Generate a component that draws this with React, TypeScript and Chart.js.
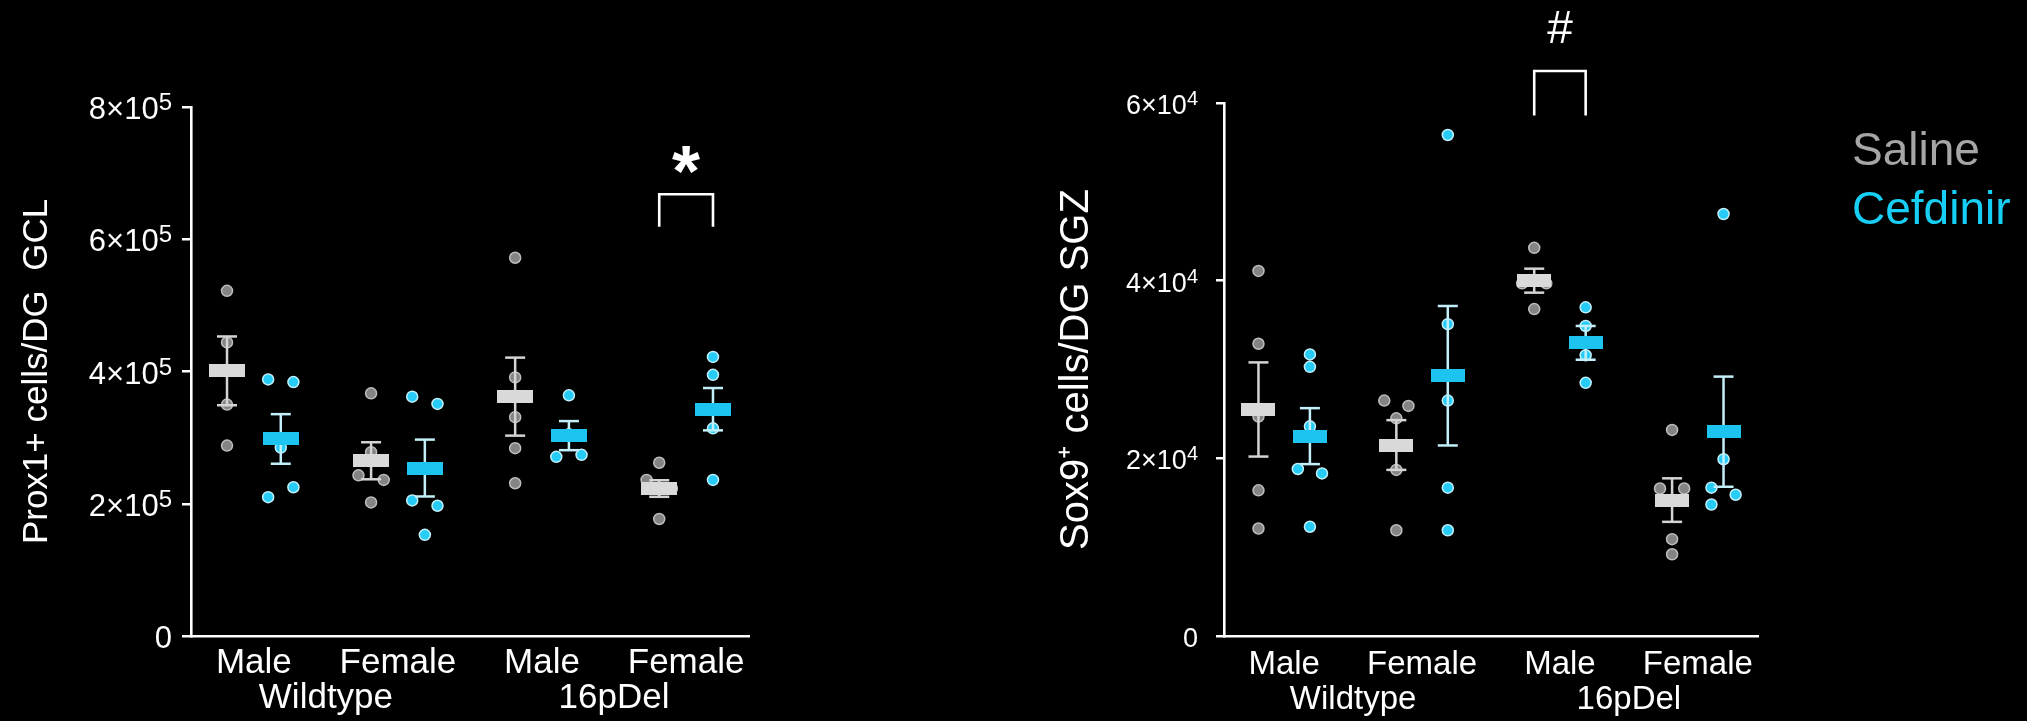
import React, { useEffect, useRef } from 'react';
import { Chart, registerables } from 'chart.js';

Chart.register(...registerables);

const FONT = "'Liberation Sans', Arial, Helvetica, sans-serif";

// ---------- shared categories ----------
const subgroupLabels = ['Male', 'Female', 'Male', 'Female'];
const genotypeLabels = ['Wildtype', '16pDel'];
const seriesNames = ['Saline', 'Cefdinir'];

// ---------- Panel A: Prox1+ cells/DG GCL ----------
const prox1YTicks = [0, 200000, 400000, 600000, 800000];
const prox1YTickLabels = ['0', '2×10⁵', '4×10⁵', '6×10⁵', '8×10⁵'];
const prox1SalinePoints = [
  [522000, 444000, 350000, 288000],
  [367000, 278000, 243000, 236000, 202000],
  [572000, 391000, 331000, 284000, 231000],
  [262000, 236000, 223000, 222000, 177000],
];
const prox1CefPoints = [
  [388000, 384000, 285000, 225000, 210000],
  [362000, 351000, 205000, 197000, 153000],
  [364000, 305000, 271000, 274000],
  [422000, 395000, 314000, 236000],
];
const prox1SalineMean = [401000, 265000, 362000, 223000];
const prox1SalineSem = [52000, 28000, 59000, 12500];
const prox1CefMean = [298000, 254000, 303000, 343000];
const prox1CefSem = [37500, 43000, 22000, 32000];
// significance: group index, bracket top, bracket leg end, symbol level
const prox1Sig = { group: 3, top: 668000, leg: 619000, symbol: 719000, text: '*' };

// ---------- Panel B: Sox9+ cells/DG SGZ ----------
const sox9YTicks = [0, 20000, 40000, 60000];
const sox9YTickLabels = ['0', '2×10⁴', '4×10⁴', '6×10⁴'];
const sox9SalinePoints = [
  [41100, 32900, 24700, 16400, 12100],
  [26500, 25900, 24500, 18700, 11900],
  [43700, 39700, 39700, 36800],
  [23200, 16600, 16600, 10900, 9200],
];
const sox9CefPoints = [
  [31700, 30300, 23600, 18800, 18300, 12300],
  [56400, 35100, 26500, 16700, 11900],
  [37000, 34900, 31600, 28500],
  [47500, 19900, 16700, 15900, 14800],
];
const sox9SalineMean = [25500, 21500, 40000, 15300];
const sox9SalineSem = [5300, 2800, 1350, 2450];
const sox9CefMean = [22500, 29300, 33000, 23000];
const sox9CefSem = [3150, 7850, 1900, 6200];
const sox9Sig = { group: 2, top: 63600, leg: 58600, symbol: 68600, text: '#' };

// ---------- layout (positions only, no data) ----------
const GROUP_SPACING = 2.68;
const PAIR_OFFSET = 1;
const JITTER_STEP = 0.235;
const X_MIN = -0.67;
const X_MAX = 9.71;
const prox1SalineJitter = [[0, 0, 0, 0], [0, 0, -1, 1, 0], [0, 0, 0, 0, 0], [0, -1, 1, 0, 0]];
const prox1CefJitter = [[-1, 1, 0, 1, -1], [-1, 1, -1, 1, 0], [0, 0, -1, 1], [0, 0, 0, 0]];
const sox9SalineJitter = [[0, 0, 0, 0, 0], [-1, 1, 0, 0, 0], [0, -1, 1, 0], [0, -1, 1, 0, 0]];
const sox9CefJitter = [[0, 0, 0, -1, 1, 0], [0, 0, 0, 0, 0], [0, 0, 0, 0], [0, 0, -1, 1, -1]];

// ---------- styles ----------
const SALINE_DOT = '#848484';
const SALINE_DOT_BORDER = '#bdbdbd';
const SALINE_BAR = '#d9d9d9';
const SALINE_ERR = '#d4d4d4';
const CEF_DOT = '#26cbf6';
const CEF_DOT_BORDER = '#c2f1fc';
const CEF_BAR = '#1ec4f0';
const CEF_ERR = '#c2eff9';
const LEGEND_SALINE = '#a6a6a6';
const LEGEND_CEF = '#17cff5';

const SUP_MAP: Record<string, string> = {
  '⁰': '0', '¹': '1', '²': '2', '³': '3', '⁴': '4', '⁵': '5', '⁶': '6', '⁷': '7', '⁸': '8', '⁹': '9',
};

const groupX = (g: number) => g * GROUP_SPACING;

function rectStyle(w: number, h: number, color: string) {
  const c = document.createElement('canvas');
  c.width = w;
  c.height = h;
  const ctx = c.getContext('2d')!;
  ctx.fillStyle = color;
  ctx.fillRect(0, 0, w, h);
  return c;
}

type Panel = {
  title: string;
  yMax: number;
  yTicks: number[];
  yTickLabels: string[];
  salinePoints: number[][];
  cefPoints: number[][];
  salineJitter: number[][];
  cefJitter: number[][];
  salineMean: number[];
  salineSem: number[];
  cefMean: number[];
  cefSem: number[];
  sig: { group: number; top: number; leg: number; symbol: number; text: string };
  // layout
  padTop: number;
  padRight: number;
  yWidth: number;
  titleSize: number;
  titlePad: number;
  tickSize: number;
  expSize: number;
  tickBase: number;
  expBase: number;
  tickPad: number;
  tickLen: number;
  labelSize: number;
  labelPad: number;
  barW: number;
  barH: number;
  symbolFont: string;
  symbolBaselineShift: number;
  legend: boolean;
};

function pointsData(points: number[][], jitter: number[][], offset: number) {
  const out: { x: number; y: number }[] = [];
  points.forEach((grp, g) => {
    grp.forEach((v, i) => {
      out.push({ x: groupX(g) + offset + jitter[g][i] * JITTER_STEP, y: v });
    });
  });
  return out;
}

function whiskerData(mean: number[], sem: number[], offset: number) {
  const out: { x: number; y: number | null }[] = [];
  mean.forEach((m, g) => {
    const x = groupX(g) + offset;
    out.push({ x, y: m - sem[g] }, { x, y: m + sem[g] }, { x, y: null });
  });
  return out;
}

function capData(mean: number[], sem: number[], offset: number) {
  const out: { x: number; y: number }[] = [];
  mean.forEach((m, g) => {
    const x = groupX(g) + offset;
    out.push({ x, y: m - sem[g] }, { x, y: m + sem[g] });
  });
  return out;
}

function meanData(mean: number[], offset: number) {
  return mean.map((m, g) => ({ x: groupX(g) + offset, y: m }));
}

const CHART_BOTTOM = 636;

function splitSup(label: string): [string, string] {
  let base = '';
  let exp = '';
  for (const ch of label) {
    if (SUP_MAP[ch] !== undefined) exp += SUP_MAP[ch];
    else base += ch;
  }
  return [base, exp];
}

function makePanel(canvas: HTMLCanvasElement, p: Panel) {
  const genotypeCenters = genotypeLabels.map(
    (_, k) => (groupX(2 * k) + groupX(2 * k + 1)) / 2 + PAIR_OFFSET / 2
  );
  const xTickItems = [
    ...subgroupLabels.map((l, g) => ({ value: groupX(g) + PAIR_OFFSET / 2, label: [l, ''] })),
    ...genotypeLabels.map((l, k) => ({ value: genotypeCenters[k], label: ['', l] })),
  ].sort((a, b) => a.value - b.value);

  const sigPlugin = {
    id: 'sig',
    afterDraw(chart: any) {
      const { ctx, scales, chartArea } = chart;
      const xs = scales.x;
      const ys = scales.y;
      ctx.save();

      // y tick labels with superscript exponents
      const labelRight = ys.right - p.tickLen - p.tickPad;
      ctx.fillStyle = '#ffffff';
      ctx.textAlign = 'right';
      ctx.textBaseline = 'alphabetic';
      p.yTicks.forEach((v, i) => {
        const py = ys.getPixelForValue(v);
        const [base, exp] = splitSup(p.yTickLabels[i]);
        let right = labelRight;
        if (exp) {
          ctx.font = `${p.expSize}px ${FONT}`;
          ctx.fillText(exp, right, py + p.expBase);
          right -= ctx.measureText(exp).width;
        }
        ctx.font = `${p.tickSize}px ${FONT}`;
        ctx.fillText(base, right, py + p.tickBase);
      });

      // significance bracket
      const x1 = xs.getPixelForValue(groupX(p.sig.group));
      const x2 = xs.getPixelForValue(groupX(p.sig.group) + PAIR_OFFSET);
      const yt = ys.getPixelForValue(p.sig.top);
      const yl = ys.getPixelForValue(p.sig.leg);
      ctx.strokeStyle = '#ffffff';
      ctx.lineWidth = 2.6;
      ctx.lineJoin = 'miter';
      ctx.beginPath();
      ctx.moveTo(x1, yl);
      ctx.lineTo(x1, yt);
      ctx.lineTo(x2, yt);
      ctx.lineTo(x2, yl);
      ctx.stroke();
      ctx.font = p.symbolFont;
      ctx.textAlign = 'center';
      ctx.fillText(p.sig.text, (x1 + x2) / 2, ys.getPixelForValue(p.sig.symbol) + p.symbolBaselineShift);

      if (p.legend) {
        ctx.font = `46px ${FONT}`;
        ctx.textAlign = 'left';
        ctx.textBaseline = 'middle';
        ctx.fillStyle = LEGEND_SALINE;
        ctx.fillText(seriesNames[0], chartArea.right + 94, chartArea.top + 49);
        ctx.fillStyle = LEGEND_CEF;
        ctx.fillText(seriesNames[1], chartArea.right + 94, chartArea.top + 108);
      }
      ctx.restore();
    },
  };

  return new Chart(canvas, {
    type: 'scatter',
    data: {
      datasets: [
        {
          label: seriesNames[0] + ' points',
          data: pointsData(p.salinePoints, p.salineJitter, 0),
          pointRadius: 5.5,
          pointBackgroundColor: SALINE_DOT,
          pointBorderColor: SALINE_DOT_BORDER,
          pointBorderWidth: 1.5,
          order: 5,
        },
        {
          label: seriesNames[1] + ' points',
          data: pointsData(p.cefPoints, p.cefJitter, PAIR_OFFSET),
          pointRadius: 5.5,
          pointBackgroundColor: CEF_DOT,
          pointBorderColor: CEF_DOT_BORDER,
          pointBorderWidth: 1.5,
          order: 5,
        },
        {
          label: 'saline sem',
          data: whiskerData(p.salineMean, p.salineSem, 0),
          showLine: true,
          spanGaps: false,
          borderColor: SALINE_ERR,
          borderWidth: 2.5,
          pointRadius: 0,
          order: 4,
        },
        {
          label: 'cef sem',
          data: whiskerData(p.cefMean, p.cefSem, PAIR_OFFSET),
          showLine: true,
          spanGaps: false,
          borderColor: CEF_ERR,
          borderWidth: 2.5,
          pointRadius: 0,
          order: 4,
        },
        {
          label: 'saline caps',
          data: capData(p.salineMean, p.salineSem, 0),
          pointStyle: 'line',
          pointRadius: 10,
          pointBorderColor: SALINE_ERR,
          pointBorderWidth: 2.5,
          order: 3,
        },
        {
          label: 'cef caps',
          data: capData(p.cefMean, p.cefSem, PAIR_OFFSET),
          pointStyle: 'line',
          pointRadius: 10,
          pointBorderColor: CEF_ERR,
          pointBorderWidth: 2.5,
          order: 3,
        },
        {
          label: seriesNames[0] + ' mean',
          data: meanData(p.salineMean, 0),
          pointStyle: rectStyle(p.barW, p.barH, SALINE_BAR) as any,
          pointRadius: 6,
          order: 1,
        },
        {
          label: seriesNames[1] + ' mean',
          data: meanData(p.cefMean, PAIR_OFFSET),
          pointStyle: rectStyle(p.barW, p.barH, CEF_BAR) as any,
          pointRadius: 6,
          order: 1,
        },
      ] as any,
    },
    options: {
      animation: false,
      responsive: false,
      events: [],
      layout: { padding: { top: p.padTop, right: p.padRight, bottom: 0, left: 0 } },
      plugins: { legend: { display: false }, tooltip: { enabled: false } },
      scales: {
        x: {
          type: 'linear',
          position: 'bottom',
          min: X_MIN,
          max: X_MAX,
          bounds: 'data',
          grid: { display: false },
          border: { display: true, color: '#ffffff', width: 2.6 },
          ticks: {
            color: '#ffffff',
            font: { size: p.labelSize, family: FONT, lineHeight: '35px' },
            padding: p.labelPad,
            autoSkip: false,
            maxRotation: 0,
            minRotation: 0,
            callback: (_v: any, i: number) => xTickItems[i].label,
          },
          afterBuildTicks: (s: any) => {
            s.ticks = xTickItems.map((t) => ({ value: t.value }));
          },
          afterFit: (s: any) => {
            s.height = 721 - CHART_BOTTOM;
          },
        },
        y: {
          type: 'linear',
          position: 'left',
          min: 0,
          max: p.yMax,
          grid: {
            display: true,
            drawOnChartArea: false,
            drawTicks: true,
            tickLength: p.tickLen,
            color: '#ffffff',
            lineWidth: 2.5,
            tickWidth: 2.5,
          },
          border: { display: true, color: '#ffffff', width: 2.6 },
          ticks: {
            display: false,
            autoSkip: false,
          },
          afterBuildTicks: (s: any) => {
            s.ticks = p.yTicks.map((v) => ({ value: v }));
          },
          title: {
            display: true,
            text: p.title,
            color: '#ffffff',
            font: { size: p.titleSize, family: FONT },
            padding: { top: p.titlePad, bottom: 0 },
          },
          afterFit: (s: any) => {
            s.width = p.yWidth;
          },
        },
      },
    } as any,
    plugins: [sigPlugin],
  });
}

const panelA: Panel = {
  title: 'Prox1+ cells/DG  GCL',
  yMax: 800000,
  yTicks: prox1YTicks,
  yTickLabels: prox1YTickLabels,
  salinePoints: prox1SalinePoints,
  cefPoints: prox1CefPoints,
  salineJitter: prox1SalineJitter,
  cefJitter: prox1CefJitter,
  salineMean: prox1SalineMean,
  salineSem: prox1SalineSem,
  cefMean: prox1CefMean,
  cefSem: prox1CefSem,
  sig: prox1Sig,
  padTop: 107,
  padRight: 251,
  yWidth: 191,
  titleSize: 35,
  titlePad: 16,
  tickSize: 31,
  expSize: 24,
  tickBase: 12,
  expBase: 3,
  tickPad: 10,
  tickLen: 9,
  labelSize: 35,
  labelPad: 2,
  barW: 36,
  barH: 13,
  symbolFont: `bold 72px ${FONT}`,
  symbolBaselineShift: 35,
  legend: false,
};

const panelB: Panel = {
  title: 'Sox9⁺ cells/DG SGZ',
  yMax: 60000,
  yTicks: sox9YTicks,
  yTickLabels: sox9YTickLabels,
  salinePoints: sox9SalinePoints,
  cefPoints: sox9CefPoints,
  salineJitter: sox9SalineJitter,
  cefJitter: sox9CefJitter,
  salineMean: sox9SalineMean,
  salineSem: sox9SalineSem,
  cefMean: sox9CefMean,
  cefSem: sox9CefSem,
  sig: sox9Sig,
  padTop: 103,
  padRight: 269,
  yWidth: 224,
  titleSize: 40,
  titlePad: 53,
  tickSize: 27,
  expSize: 20,
  tickBase: 11,
  expBase: 2,
  tickPad: 18,
  tickLen: 8,
  labelSize: 33,
  labelPad: 3,
  barW: 34,
  barH: 13,
  symbolFont: `46px ${FONT}`,
  symbolBaselineShift: 16,
  legend: true,
};

export default function App() {
  const leftRef = useRef<HTMLCanvasElement>(null);
  const rightRef = useRef<HTMLCanvasElement>(null);

  useEffect(() => {
    document.body.style.margin = '0';
    document.body.style.background = '#000';
    Chart.defaults.font.family = FONT;
    Chart.defaults.color = '#ffffff';
    const c1 = makePanel(leftRef.current!, panelA);
    const c2 = makePanel(rightRef.current!, panelB);
    return () => {
      c1.destroy();
      c2.destroy();
    };
  }, []);

  return (
    <div
      style={{
        position: 'absolute',
        left: 0,
        top: 0,
        width: 2027,
        height: 721,
        background: '#000',
        overflow: 'hidden',
      }}
    >
      <canvas ref={leftRef} width={1000} height={721} style={{ position: 'absolute', left: 0, top: 0 }} />
      <canvas ref={rightRef} width={1027} height={721} style={{ position: 'absolute', left: 1000, top: 0 }} />
    </div>
  );
}
